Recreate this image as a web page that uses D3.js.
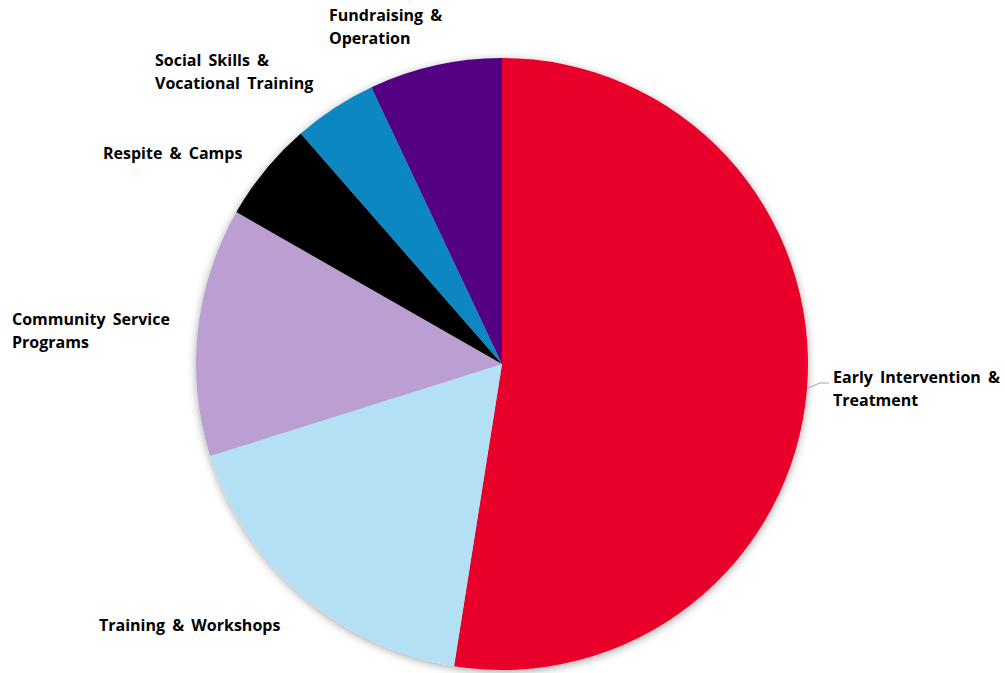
<!DOCTYPE html>
<html>
<head>
<meta charset="utf-8">
<script src="https://cdn.jsdelivr.net/npm/d3@7"></script>
<style>
  html, body { margin: 0; padding: 0; background: #fff; }
  svg { display: block; }
  .lbl { font-family: "Open Sans", Lato, sans-serif; font-weight: 700; font-size: 16px; fill: #000; }
</style>
</head>
<body>
<svg id="chart"></svg>
<script>
// slices, clockwise from 12 o'clock
const categories = [
    "Early Intervention & Treatment",
    "Training & Workshops",
    "Community Service Programs",
    "Respite & Camps",
    "Social Skills & Vocational Training",
    "Fundraising & Operation"
];
const values = [52.4, 17.6, 13.1, 5.3, 4.4, 7.0];
const colours = ["#E8002B", "#B3E0F5", "#BB9FD3", "#000000", "#0B87C1", "#520483"];

// wrapped label lines
const labelLines = [
    ["Early Intervention &", "Treatment"],
    ["Training & Workshops"],
    ["Community Service", "Programs"],
    ["Respite & Camps"],
    ["Social Skills &", "Vocational Training"],
    ["Fundraising &", "Operation"]
];

const width = 1005, height = 673;
const cx = 502, cy = 364, radius = 306;

// where each label block sits (left edge, first line middle)
const labelAnchor = [
    [833, 377], [99, 625], [12, 319], [103, 153], [155, 60], [329, 15]
];
const lineStep = 23.5;

const svg = d3.select("#chart")
    .attr("width", width)
    .attr("height", height)
    .attr("viewBox", [0, 0, width, height]);

const defs = svg.append("defs");
const shadow = defs.append("filter")
    .attr("id", "shadow")
    .attr("x", "-10%").attr("y", "-10%")
    .attr("width", "120%").attr("height", "120%");
shadow.append("feDropShadow")
    .attr("dx", 0).attr("dy", 2)
    .attr("stdDeviation", 4)
    .attr("flood-color", "#000")
    .attr("flood-opacity", 0.35);

const pie = d3.pie().sort(null).value(d => d)(values);
const arc = d3.arc().innerRadius(0).outerRadius(radius);

const g = svg.append("g")
    .attr("transform", `translate(${cx},${cy})`)
    .attr("filter", "url(#shadow)");

g.selectAll("path")
    .data(pie)
    .enter()
    .append("path")
    .attr("d", arc)
    .attr("fill", (d, i) => colours[i]);

// leader line from the big slice's rim to its label
const leadY = 24;
const leadAngle = Math.acos(-leadY / radius);
const edge = [cx + radius * Math.sin(leadAngle) + 1, cy + leadY];
svg.append("polyline")
    .attr("points", [edge, [820, 383], [829, 383]].map(p => p.join(",")).join(" "))
    .attr("fill", "none")
    .attr("stroke", "#a6a6a6")
    .attr("stroke-width", 1);

const labels = svg.append("g").attr("class", "labels");

labelLines.forEach((lines, i) => {
    const [lx, ly] = labelAnchor[i];
    const t = labels.append("text")
        .attr("class", "lbl")
        .attr("x", lx)
        .attr("y", ly);
    lines.forEach((line, j) => {
        t.append("tspan")
            .attr("x", lx)
            .attr("y", ly + j * lineStep)
            .attr("dy", "0.35em")
            .attr("word-spacing", "3px")
            .text(line);
    });
});
</script>
</body>
</html>
